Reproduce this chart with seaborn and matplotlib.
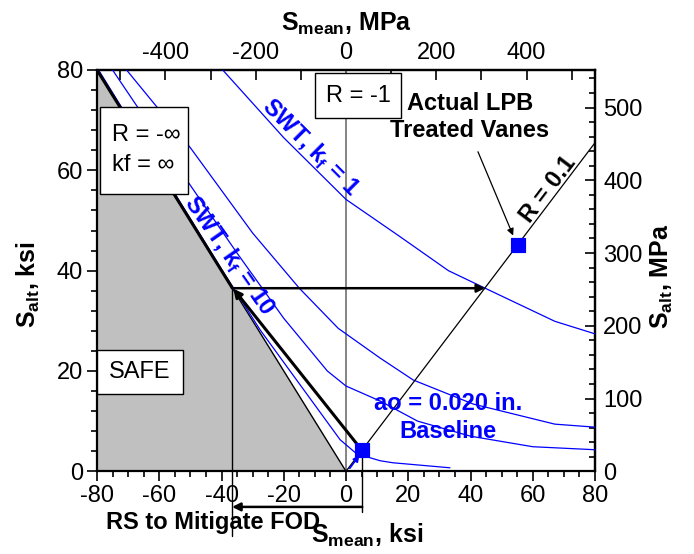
import numpy as np
import pandas as pd
import seaborn as sns
import matplotlib.pyplot as plt
from matplotlib.patches import Rectangle
from matplotlib.ticker import MultipleLocator

# SWT curves, ksi
swt_k1_x = [-39.6, -20, 0, 17.3, 32.9, 44.7, 67.1, 80]
swt_k1_y = [80, 66.5, 54.2, 46.8, 40.0, 36.5, 29.9, 27.4]
swt_b_x = [-70.5, -50, -30, -15, -2.5, 10.9, 21.6, 40.9, 67.1, 80]
swt_b_y = [80, 64.5, 47.5, 36.5, 28.5, 22.6, 18.2, 13.4, 9.4, 8.8]
swt_k10_x = [-75, -50, -35, -20, -6, 0, 11, 23, 40, 60, 80]
swt_k10_y = [80, 57, 43.5, 30.5, 20, 17, 14, 10, 7, 4.9, 4.3]
base_x = [-79.5, -40, -27.6, -10, -1.9, 3.4, 11, 15.1, 33.4]
base_y = [80, 40.3, 28.2, 13.2, 6.3, 3.5, 2.1, 1.7, 0.7]

# safe region / limit lines
safe_x = [-80, 0]
safe_top = [80, 0]
r01_x = [0, 80]
r01_y = [0, 65.5]
rs_x = [-80, -36.6]
rs_y = [80, 36.6]

# points
pts = pd.DataFrame({"Smean": [5.1, 55.3], "Salt": [4.2, 45.2],
                    "case": ["Baseline", "LPB"]})

sns.set_style("ticks")
plt.rcParams['font.family'] = ['Liberation Sans', 'DejaVu Sans']
plt.rcParams['mathtext.fontset'] = 'custom'
plt.rcParams['mathtext.rm'] = 'Liberation Sans'
plt.rcParams['mathtext.bf'] = 'Liberation Sans:bold'
plt.rcParams['axes.unicode_minus'] = False
for k in ['text.color', 'axes.labelcolor', 'xtick.color', 'ytick.color', 'axes.edgecolor']:
    plt.rcParams[k] = 'black'

W, H = 694, 554
fig = plt.figure(figsize=(W / 100, H / 100), dpi=100)
ax = fig.add_axes([97 / W, 1 - 471.3 / H, (595 - 97) / W, (471.3 - 70) / H])


def T(x, y, s, **kw):
    return ax.text(x / W, 1 - y / H, s, transform=fig.transFigure, clip_on=False, **kw)


def box(x0, y0, x1, y1):
    ax.add_patch(Rectangle((x0 / W, 1 - y1 / H), (x1 - x0) / W, (y1 - y0) / H,
                           transform=fig.transFigure, fc='white', ec='black',
                           lw=1, clip_on=False, zorder=6))


ax.fill_between(safe_x, 0, safe_top, color='#c0c0c0', lw=0, zorder=0)
ax.plot(safe_x, safe_top, color='black', lw=1, zorder=2)
ax.plot([0, 0], [0, 80], color='#707070', lw=1.2, zorder=1)

for xs, ys in [(swt_k1_x, swt_k1_y), (swt_b_x, swt_b_y),
               (swt_k10_x, swt_k10_y), (base_x, base_y)]:
    sns.lineplot(x=xs, y=ys, sort=False, estimator=None, color='blue', lw=0.9, ax=ax, zorder=3)

sns.lineplot(x=r01_x, y=r01_y, sort=False, estimator=None, color='black', lw=0.9, ax=ax, zorder=3)
sns.lineplot(x=rs_x, y=rs_y, sort=False, estimator=None, color='black', lw=2.2, ax=ax, zorder=4)

# thick arrow from baseline point up to RS line
ax.annotate('', xy=(-36.2, 36.4), xytext=(5.1, 4.2),
            arrowprops=dict(arrowstyle='-|>', color='black', lw=2.2, mutation_scale=12,
                            shrinkA=0, shrinkB=0), zorder=4)
# horizontal arrow at constant Salt
ax.annotate('', xy=(44.7, 36.5), xytext=(-36.6, 36.5),
            arrowprops=dict(arrowstyle='-|>', color='black', lw=1.8, mutation_scale=12,
                            shrinkA=0, shrinkB=0), zorder=4)
# RS dimension below axis
ax.plot([-36.6, -36.6], [36.5, -12.8], color='black', lw=1, clip_on=False, zorder=4)
ax.plot([5.2, 5.2], [4.2, -8.1], color='black', lw=1, clip_on=False, zorder=4)
ax.annotate('', xy=(-36.6, -7.1), xytext=(5.2, -7.1), annotation_clip=False,
            arrowprops=dict(arrowstyle='-|>', color='black', lw=1.8, mutation_scale=12,
                            shrinkA=0, shrinkB=0))
# small blue arrow to baseline point
ax.annotate('', xy=(4.3, 3.2), xytext=(1.2, 0.6),
            arrowprops=dict(arrowstyle='-|>', color='blue', lw=1.2, mutation_scale=9,
                            shrinkA=0, shrinkB=0), zorder=5)
# arrow to LPB point
ax.annotate('', xy=(53.7, 47.0), xytext=(42.4, 63.7),
            arrowprops=dict(arrowstyle='-|>', color='black', lw=0.9, mutation_scale=10,
                            shrinkA=0, shrinkB=0), zorder=5)

sns.scatterplot(data=pts, x="Smean", y="Salt", marker='s', s=110, color='blue',
                edgecolor='blue', ax=ax, zorder=7, legend=False)

ax.set_xlim(-80, 80)
ax.set_ylim(0, 80)
ax.set_xlabel('')
ax.set_ylabel('')
ax.set_xticks(range(-80, 81, 20))
ax.set_yticks(range(0, 81, 20))
ax.xaxis.set_minor_locator(MultipleLocator(5))
ax.yaxis.set_minor_locator(MultipleLocator(4))
ax.tick_params(axis='both', which='major', direction='out', length=7, width=1.2,
               labelsize=17, pad=3, top=False, right=False)
ax.tick_params(axis='both', which='minor', direction='out', length=4, width=1.2,
               top=False, right=False)
for s in ax.spines.values():
    s.set_linewidth(1.6)

top = ax.secondary_xaxis('top', functions=(lambda v: v * 6.895, lambda v: v / 6.895))
top.set_xticks([-400, -200, 0, 200, 400])
top.xaxis.set_minor_locator(MultipleLocator(100))
top.tick_params(which='major', direction='in', length=7, width=1.2, labelsize=17, pad=4)
top.tick_params(which='minor', direction='in', length=7, width=1.2)
right = ax.secondary_yaxis('right', functions=(lambda v: v * 6.895, lambda v: v / 6.895))
right.set_yticks(range(0, 501, 100))
right.yaxis.set_minor_locator(MultipleLocator(20))
right.tick_params(which='major', direction='in', length=7, width=1.2, labelsize=17, pad=6)
right.tick_params(which='minor', direction='in', length=4, width=1.2)
for a in (top, right):
    for s in a.spines.values():
        s.set_linewidth(1.6)

# axis titles
T(28, 285, r'S$_{\mathbf{alt}}$, ksi', rotation=90, ha='center', va='center',
  fontsize=18, fontweight='bold')
T(662, 276, r'S$_{\mathbf{alt}}$, MPa', rotation=90, ha='center', va='center',
  fontsize=18, fontweight='bold')
T(346, 24, r'S$_{\mathbf{mean}}$, MPa', ha='center', va='center', fontsize=18, fontweight='bold')
T(367, 535, r'S$_{\mathbf{mean}}$, ksi', ha='center', va='center', fontsize=18, fontweight='bold')
T(213, 522, 'RS to Mitigate FOD', ha='center', va='center', fontsize=17, fontweight='bold')

# boxes
box(315, 73, 401, 118)
T(358, 96, 'R = -1', ha='center', va='center', fontsize=17, zorder=7)
box(100, 107, 188, 194)
T(112, 135, 'R = -∞', ha='left', va='center', fontsize=17, zorder=7)
T(112, 165, 'kf = ∞', ha='left', va='center', fontsize=17, zorder=7)
box(97, 350, 183, 394)
T(140, 372, 'SAFE', ha='center', va='center', fontsize=17, zorder=7)

# annotations
T(470, 117, 'Actual LPB\nTreated Vanes', ha='center', va='center', fontsize=17,
  fontweight='bold', linespacing=1.25, zorder=7)
T(548, 189, 'R = 0.1', ha='center', va='center', rotation=52.8, fontsize=17,
  fontweight='bold', zorder=7)
T(310, 148, r'SWT, k$_{\mathbf{f}}$ = 1', ha='center', va='center', rotation=-45,
  fontsize=17, fontweight='bold', color='blue', zorder=7)
T(229, 256, r'SWT, k$_{\mathbf{f}}$ = 10', ha='center', va='center', rotation=-55,
  fontsize=17, fontweight='bold', color='blue', zorder=7)
T(448, 404, 'ao = 0.020 in.', ha='center', va='center', fontsize=17,
  fontweight='bold', color='blue', zorder=7)
T(448, 432, 'Baseline', ha='center', va='center', fontsize=17,
  fontweight='bold', color='blue', zorder=7)

fig.savefig('out.png', dpi=100)
